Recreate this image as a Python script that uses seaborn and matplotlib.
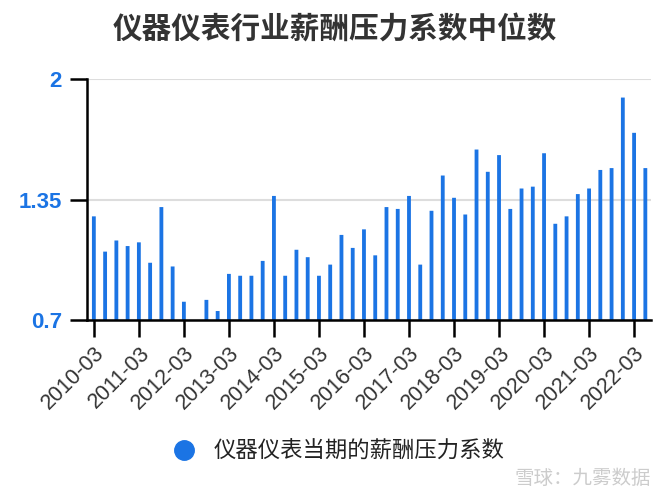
import numpy as np
import pandas as pd
import matplotlib
matplotlib.use("Agg")
import matplotlib.pyplot as plt
from matplotlib.lines import Line2D
import seaborn as sns

periods = [f"{y}-{m}" for y in range(2010, 2023) for m in ["03", "06", "09", "12"]][:50]
values = [1.26, 1.07, 1.13, 1.10, 1.12, 1.01, 1.31, 0.99,
          0.80, np.nan, 0.81, 0.75, 0.95, 0.94, 0.94, 1.02,
          1.37, 0.94, 1.08, 1.04, 0.94, 1.00, 1.16, 1.09,
          1.19, 1.05, 1.31, 1.30, 1.37, 1.00, 1.29, 1.48,
          1.36, 1.27, 1.62, 1.50, 1.59, 1.30, 1.41, 1.42,
          1.60, 1.22, 1.26, 1.38, 1.41, 1.51, 1.52, 1.90,
          1.71, 1.52]
yticks = [0.7, 1.35, 2]
ytick_labels = ["0.7", "1.35", "2"]
title = "仪器仪表行业薪酬压力系数中位数"
series_name = "仪器仪表当期的薪酬压力系数"
watermark = "雪球：九雾数据"

BLUE = "#1b74e4"
CJK = ['Noto Sans CJK SC', 'DejaVu Sans']

sns.set_theme(style="white")
plt.rcParams['font.family'] = ['Liberation Sans', 'Noto Sans CJK SC', 'DejaVu Sans']

df = pd.DataFrame({"period": periods, "value": values})

fig = plt.figure(figsize=(6.7, 5), dpi=100)
ax = fig.add_axes([0.13, 0.3594, 0.8416, 0.4826])

sns.barplot(data=df.dropna(), x="period", y="value", order=periods,
            color=BLUE, saturation=1, width=0.34, errorbar=None,
            linewidth=0, ax=ax, zorder=3)
for p in ax.patches:
    p.set_snap(False)

ax.set_ylim(0.7, 2.0)
ax.set_xlim(-0.6, len(periods) - 0.5)
ax.set_yticks(yticks)
ax.set_yticklabels(ytick_labels, color=BLUE, fontweight="bold", fontsize=16)
ax.set_xticks(range(0, len(periods), 4))
ax.set_xticklabels(periods[::4], rotation=45, ha="right", rotation_mode="anchor",
                   fontsize=15.5, color="#333333")
ax.set_xlabel("")
ax.set_ylabel("")

ax.yaxis.grid(True, color="#dddddd", linewidth=1.5, zorder=0)
ax.xaxis.grid(False)
for s in ["top", "right"]:
    ax.spines[s].set_visible(False)
for s in ["left", "bottom"]:
    ax.spines[s].set_visible(True)
    ax.spines[s].set_color("black")
    ax.spines[s].set_linewidth(1.8)
    ax.spines[s].set_zorder(5)
ax.tick_params(axis="both", which="major", length=12, width=1.8, color="black",
               direction="out", bottom=True, left=True)
ax.tick_params(axis="x", pad=4)
ax.tick_params(axis="y", pad=6)

fig.suptitle(title, x=0.5, y=0.972, fontsize=21.3, fontweight="bold",
             color="#333333", family=CJK)

handle = Line2D([], [], marker="o", linestyle="none", markersize=14,
                markerfacecolor=BLUE, markeredgecolor=BLUE)
leg = fig.legend([handle], [series_name], loc="center",
                 bbox_to_anchor=(0.497, 0.098), frameon=False,
                 handletextpad=0.3, prop={"family": CJK, "size": 16.1})
for t in leg.get_texts():
    t.set_color("#222222")

fig.text(0.972, 0.044, watermark, ha="right", va="center", fontsize=14,
         color="#cccccc", family=CJK)

fig.savefig("out.png", dpi=100, facecolor="white")
